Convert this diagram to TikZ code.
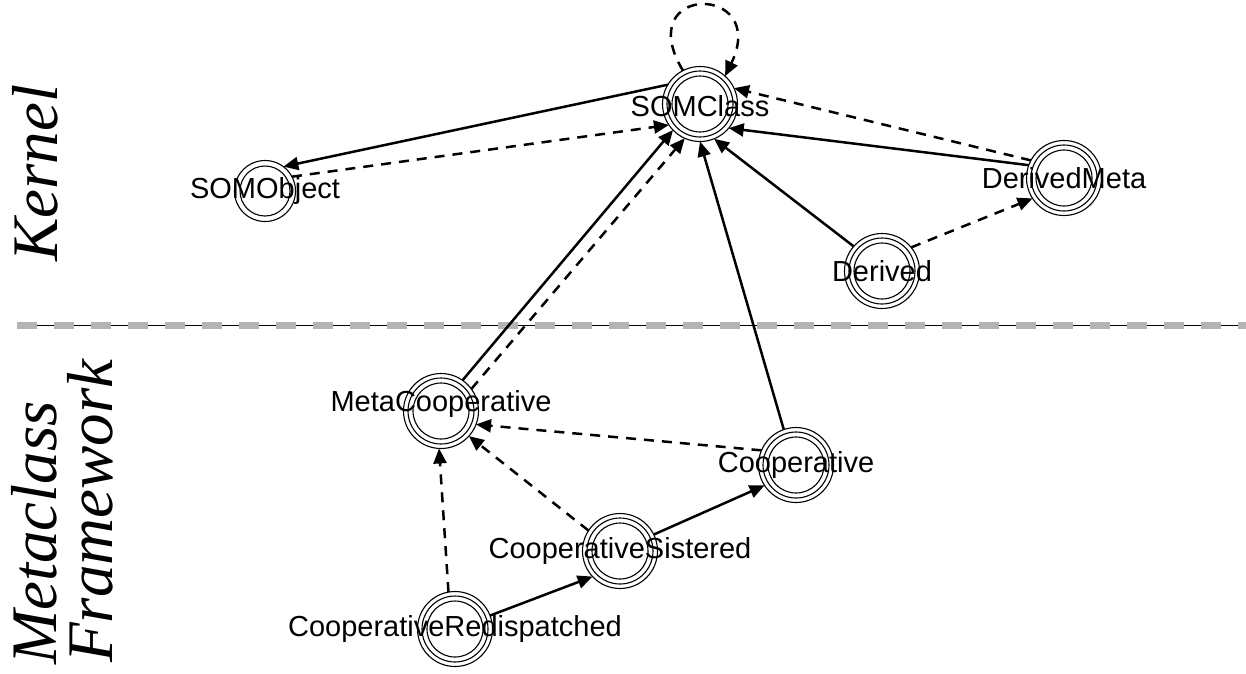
\documentclass[tikz,border=0pt]{standalone}
\usepackage{fontspec}
\setmainfont{Liberation Sans}
\newfontfamily\serifit{Liberation Serif}
\usetikzlibrary{arrows.meta}
\tikzset{
  triple/.style={circle, draw, line width=1.1pt, minimum size=75pt, inner sep=0pt, outer sep=0pt,
    path picture={\draw[line width=1.1pt] (path picture bounding box.center) circle (33pt) circle (28pt);}},
  doublec/.style={circle, draw, line width=1.1pt, minimum size=61pt, inner sep=0pt, outer sep=0pt,
    path picture={\draw[line width=1.1pt] (path picture bounding box.center) circle (25pt);}},
  lbl/.style={font=\fontsize{29}{33}\selectfont, inner sep=0pt},
  side/.style={font=\serifit\itshape\fontsize{65}{65}\selectfont, rotate=90, inner sep=0pt, anchor=base west},
  edge/.style={line width=2.5pt, -{Triangle[length=15pt,width=13pt]}},
  dedge/.style={edge, dash pattern=on 10pt off 8pt},
}
\begin{document}
\begin{tikzpicture}[x=1pt,y=-1pt]
\useasboundingbox (0,0) rectangle (1246,673);
% separator
\coordinate (sepL) at (17,325);
\coordinate (sepR) at (1246,325);
\draw[line width=0.9pt] (sepL) -- (sepR);
\draw[line width=7pt, draw={rgb,255:red,180;green,180;blue,180}, dash pattern=on 20pt off 17pt] (sepL) -- (sepR);
% side labels
\node[side] (kernel) at (57,262) {Kernel};
\node[side] (metaclass) at (56,665) {Metaclass};
\node[side] (framework) at (112,663) {Framework};
% nodes
\node[triple, label={[lbl,yshift=-2pt]center:SOMClass}] (somclass) at (700,104) {};
\node[doublec, label={[lbl]center:SOMObject}] (somobject) at (265,191) {};
\node[triple, label={[lbl]center:DerivedMeta}] (derivedmeta) at (1064,178) {};
\node[triple, label={[lbl]center:Derived}] (derived) at (882,271) {};
\node[triple, label={[lbl,yshift=7pt]center:MetaCooperative}] (metacoop) at (441,411) {};
\node[triple, label={[lbl]center:Cooperative}] (coop) at (796,465) {};
\node[triple, label={[lbl]center:CooperativeSistered}] (coopsis) at (620,551) {};
\node[triple, label={[lbl]center:CooperativeRedispatched}] (coopred) at (455,629) {};
% edges
\draw[edge] (somclass.149) -- (somobject.53);
\draw[dedge] (somobject.28) -- (somclass.214);
\draw[dedge] (somclass.117) .. controls (630,-17) and (770,-17) .. (somclass.48);
\draw[dedge] (derivedmeta.152) -- (somclass.25);
\draw[edge] (derivedmeta.160) -- (somclass.320);
\draw[edge] (derived.139) -- (somclass.292);
\draw[dedge] (derived.39) -- (derivedmeta.213);
\draw[edge] (coop.109) -- (somclass.270);
\draw[edge] (metacoop.55) -- (somclass.224);
\draw[dedge] (metacoop.36) -- (somclass.246);
\draw[dedge] (coop.157) -- (metacoop.339);
\draw[dedge] (coopsis.147) -- (metacoop.318);
\draw[edge] (coopsis.26) -- (coop.213);
\draw[dedge] (coopred.100) -- (metacoop.267);
\draw[edge] (coopred.21) -- (coopsis.223);
\end{tikzpicture}
\end{document}
